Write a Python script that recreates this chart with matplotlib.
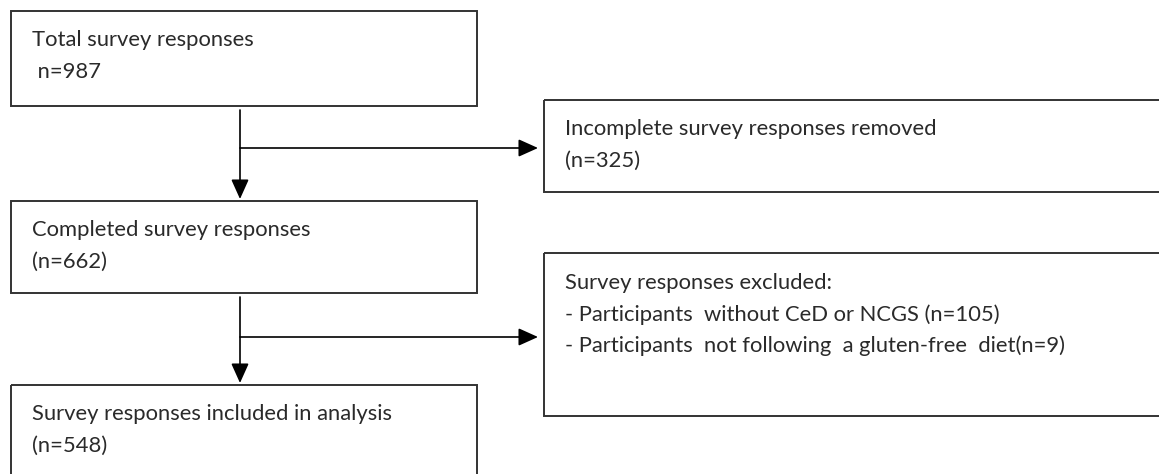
import matplotlib
matplotlib.use("Agg")
from matplotlib import pyplot as plt
from matplotlib.patches import Rectangle

# flow steps (left column) and exclusions (right column)
main_titles = ["Total survey responses", "Completed survey responses",
               "Survey responses included in analysis"]
main_counts = [" n=987", "(n=662)", "(n=548)"]

side_titles = ["Incomplete survey responses removed", "Survey responses excluded:"]
side_lines = [["(n=325)"],
              ["- Participants  without CeD or NCGS (n=105)",
               "- Participants  not following  a gluten-free  diet(n=9)"]]

# layout in pixel units (y grows downward)
W, H = 1159, 474
main_boxes = [(11, 11, 466, 95), (11, 201, 466, 92), (11, 385, 466, 120)]
side_boxes = [(544, 100, 640, 92), (544, 253, 640, 163)]
stem_x = 240
branch_y = [148, 337]
line_gap = 31.5
edge = "#333333"
font = ["Lato", "DejaVu Sans"]
fs = 15.8

fig = plt.figure(figsize=(W / 100, H / 100), dpi=100)
ax = fig.add_axes([0, 0, 1, 1])
ax.set_xlim(0, W)
ax.set_ylim(H, 0)
ax.axis("off")

def draw_box(box, lines, first=29):
	x, y, w, h = box
	ax.add_patch(Rectangle((x, y), w, h, fill=False, edgecolor=edge, linewidth=1.4))
	for i, t in enumerate(lines):
		ax.text(x + 21, y + first + i * line_gap, t, family=font, fontsize=fs,
				color="#2a2a2a", va="center", ha="left")

for b, t, c in zip(main_boxes, main_titles, main_counts):
	draw_box(b, [t, c])

draw_box(side_boxes[0], [side_titles[0]] + side_lines[0])
draw_box(side_boxes[1], [side_titles[1]] + side_lines[1], first=30)

arrow = dict(arrowstyle="-|>,head_length=1.0,head_width=0.45", color="black",
			 lw=1.2, mutation_scale=12, shrinkA=0, shrinkB=0)

for i in range(2):
	top = main_boxes[i][1] + main_boxes[i][3] + 4
	tip = main_boxes[i + 1][1] - 2
	ax.annotate("", xy=(stem_x, tip), xytext=(stem_x, top), arrowprops=arrow)
	ax.annotate("", xy=(side_boxes[i][0] - 6, branch_y[i]), xytext=(stem_x, branch_y[i]),
				arrowprops=arrow)

fig.savefig("out.png", dpi=100, facecolor="white")
